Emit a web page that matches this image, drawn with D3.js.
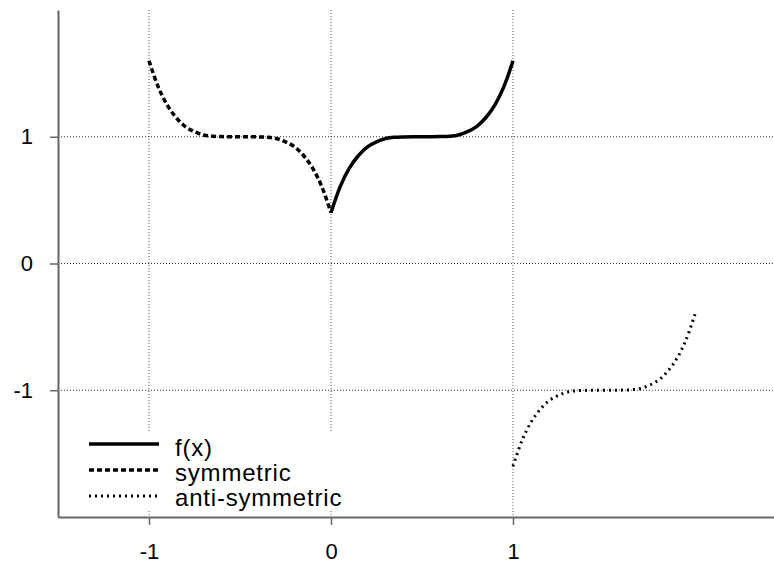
<!DOCTYPE html>
<head>
    <meta charset="utf-8">
    <title>f(x) symmetric / anti-symmetric</title>
    <script src="https://d3js.org/d3.v7.min.js"></script>
    <style>
      body { margin: 0; background: #fff; }
      text { font-family: "Liberation Sans", Arial, Helvetica, sans-serif; fill: #000; }
    </style>
</head>
<body>
  <div id="my_dataviz"></div>

  <script>

  var fX = [0, 0.05, 0.1, 0.15, 0.2, 0.25, 0.3, 0.35, 0.4, 0.45, 0.5,
            0.55, 0.6, 0.65, 0.7, 0.75, 0.8, 0.85, 0.9, 0.95, 1];
  var fY = [0.40, 0.605, 0.75, 0.85, 0.92, 0.96, 0.986, 0.996, 0.999, 1.0, 1.0,
            1.0, 1.001, 1.004, 1.014, 1.04, 1.08, 1.15, 1.25, 1.395, 1.60];

  var symX = [-1, -0.95, -0.9, -0.85, -0.8, -0.75, -0.7, -0.65, -0.6, -0.55, -0.5,
              -0.45, -0.4, -0.35, -0.3, -0.25, -0.2, -0.15, -0.1, -0.05, 0];
  var symY = [1.60, 1.395, 1.25, 1.15, 1.08, 1.04, 1.014, 1.004, 1.001, 1.0, 1.0,
              1.0, 0.999, 0.996, 0.986, 0.96, 0.92, 0.85, 0.75, 0.605, 0.40];

  var antiX = [1, 1.05, 1.1, 1.15, 1.2, 1.25, 1.3, 1.35, 1.4, 1.45, 1.5,
               1.55, 1.6, 1.65, 1.7, 1.75, 1.8, 1.85, 1.9, 1.95, 2];
  var antiY = [-1.60, -1.395, -1.25, -1.15, -1.08, -1.04, -1.014, -1.004, -1.001, -1.0, -1.0,
               -1.0, -0.999, -0.996, -0.986, -0.96, -0.92, -0.85, -0.75, -0.605, -0.40];

  var xTicks = [-1, 0, 1];
  var yTicks = [-1, 0, 1];
  var seriesNames = ["f(x)", "symmetric", "anti-symmetric"];

  var width = 774;
  var height = 563;

  var svg = d3.select("#my_dataviz")
    .append("svg")
      .attr("width", width)
      .attr("height", height);

  // scales (plot runs off the right edge of the window)
  var x = d3.scaleLinear()
    .domain([-1.5, 2.5])
    .range([58, 786]);

  var y = d3.scaleLinear()
    .domain([-2, 2])
    .range([517, 10]);

  // dotted grid
  svg.append("g")
    .selectAll("line")
    .data(xTicks)
    .enter()
    .append("line")
      .attr("x1", function(d) { return x(d); })
      .attr("x2", function(d) { return x(d); })
      .attr("y1", y(2))
      .attr("y2", y(-2))
      .attr("stroke", "#555")
      .attr("stroke-width", 1)
      .attr("stroke-dasharray", "1,2");

  svg.append("g")
    .selectAll("line")
    .data(yTicks)
    .enter()
    .append("line")
      .attr("x1", x(-1.5))
      .attr("x2", x(2.5))
      .attr("y1", function(d) { return y(d); })
      .attr("y2", function(d) { return y(d); })
      .attr("stroke", "#333")
      .attr("stroke-width", 1)
      .attr("stroke-dasharray", "1,2");

  // axes - plain hyphen for the minus sign, like the original
  var fmt = function(d) { return String(d); };

  var xAxis = svg.append("g")
    .attr("transform", "translate(0," + y(-2) + ")")
    .call(d3.axisBottom(x).tickValues(xTicks).tickFormat(fmt)
      .tickSize(8).tickSizeOuter(0).tickPadding(18));

  var yAxis = svg.append("g")
    .attr("transform", "translate(" + x(-1.5) + ",0)")
    .call(d3.axisLeft(y).tickValues(yTicks).tickFormat(fmt)
      .tickSize(8).tickSizeOuter(0).tickPadding(17));

  [xAxis, yAxis].forEach(function(a) {
    a.select(".domain").attr("stroke", "#666").attr("stroke-width", 2);
    a.selectAll(".tick line").attr("stroke", "#666").attr("stroke-width", 1.5);
    a.selectAll(".tick text")
      .style("font-family", "'Liberation Sans', Arial, sans-serif")
      .style("font-size", "22px")
      .attr("fill", "#000");
  });

  // curves
  var styles = [
    {dash: null, w: 3.5},
    {dash: "5,3", w: 3.5},
    {dash: "2,4", w: 3}
  ];

  var series = [
    {xs: fX, ys: fY},
    {xs: symX, ys: symY},
    {xs: antiX, ys: antiY}
  ];

  var line = d3.line()
    .x(function(d) { return x(d[0]); })
    .y(function(d) { return y(d[1]); })
    .curve(d3.curveCatmullRom);

  series.forEach(function(s, i) {
    svg.append("path")
      .datum(d3.zip(s.xs, s.ys))
      .attr("fill", "none")
      .attr("stroke", "#000")
      .attr("stroke-width", styles[i].w)
      .attr("stroke-dasharray", styles[i].dash)
      .attr("d", line);
  });

  // legend box hides the grid behind it
  var legend = svg.append("g");
  legend.append("rect")
    .attr("x", 62)
    .attr("y", 432)
    .attr("width", 300)
    .attr("height", 79)
    .attr("fill", "#fff");

  seriesNames.forEach(function(name, i) {
    var ly = 444 + i * 26;
    legend.append("line")
      .attr("x1", 89)
      .attr("x2", 159)
      .attr("y1", ly)
      .attr("y2", ly)
      .attr("stroke", "#000")
      .attr("stroke-width", styles[i].w)
      .attr("stroke-dasharray", styles[i].dash);
    legend.append("text")
      .attr("x", 175)
      .attr("y", 456 + i * 25)
      .style("font-size", "24px")
      .style("letter-spacing", "0.8px")
      .text(name);
  });

  </script>
</body>
